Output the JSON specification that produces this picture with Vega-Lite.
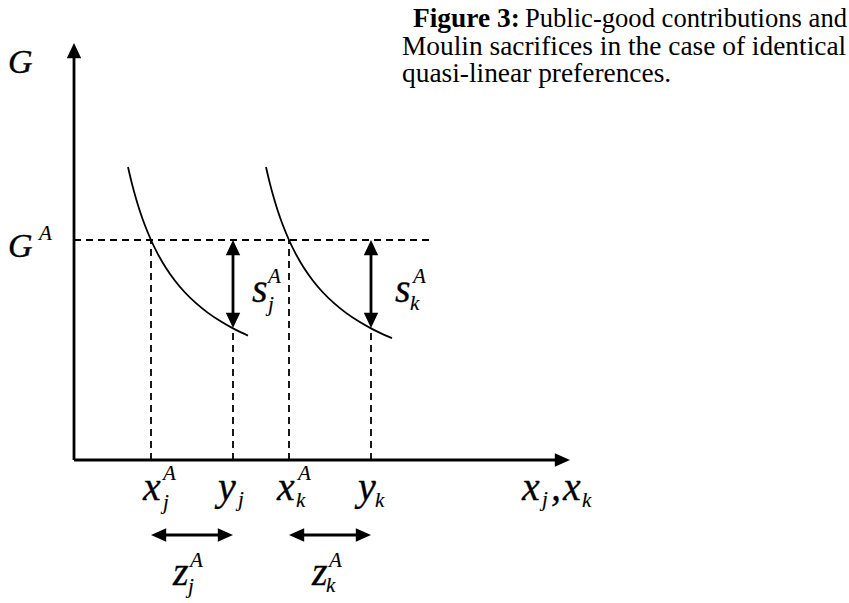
{
  "$schema": "https://vega.github.io/schema/vega-lite/v6.json",
  "width": 849,
  "height": 603,
  "padding": 0,
  "autosize": "none",
  "background": "white",
  "config": {"view": {"stroke": null}},
  "datasets": {
    "axes": [
      {"x": 0, "y": 0, "x2": 0, "y2": 408},
      {"x": 0, "y": 0, "x2": 486, "y2": 0}
    ],
    "guides": [
      {"x": 0, "y": 220, "x2": 356, "y2": 220},
      {"x": 77, "y": 0, "x2": 77, "y2": 220},
      {"x": 159, "y": 0, "x2": 159, "y2": 132},
      {"x": 215, "y": 0, "x2": 215, "y2": 220},
      {"x": 297, "y": 0, "x2": 297, "y2": 132}
    ],
    "shafts": [
      {"x": 159, "y": 140, "x2": 159, "y2": 212},
      {"x": 297, "y": 140, "x2": 297, "y2": 212},
      {"x": 85, "y": -75, "x2": 151, "y2": -75},
      {"x": 223, "y": -75, "x2": 289, "y2": -75}
    ],
    "heads": [
      {"x": 0, "y": 417, "dir": "up"},
      {"x": 496, "y": 0, "dir": "right"},
      {"x": 159, "y": 220, "dir": "up"},
      {"x": 159, "y": 132, "dir": "down"},
      {"x": 297, "y": 220, "dir": "up"},
      {"x": 297, "y": 132, "dir": "down"},
      {"x": 77, "y": -75, "dir": "left"},
      {"x": 159, "y": -75, "dir": "right"},
      {"x": 215, "y": -75, "dir": "left"},
      {"x": 297, "y": -75, "dir": "right"}
    ],
    "curves": [
      {"c": "j", "x": 54, "y": 293.0},
      {"c": "j", "x": 58, "y": 276.1},
      {"c": "j", "x": 62, "y": 261.4},
      {"c": "j", "x": 66, "y": 248.5},
      {"c": "j", "x": 71, "y": 234.5},
      {"c": "j", "x": 77, "y": 220.0},
      {"c": "j", "x": 84, "y": 205.7},
      {"c": "j", "x": 92, "y": 192.0},
      {"c": "j", "x": 101, "y": 179.3},
      {"c": "j", "x": 111, "y": 167.5},
      {"c": "j", "x": 122, "y": 156.8},
      {"c": "j", "x": 134, "y": 147.1},
      {"c": "j", "x": 147, "y": 138.4},
      {"c": "j", "x": 159, "y": 131.6},
      {"c": "j", "x": 167, "y": 127.6},
      {"c": "j", "x": 174, "y": 124.4},
      {"c": "k", "x": 192, "y": 293.0},
      {"c": "k", "x": 196, "y": 276.1},
      {"c": "k", "x": 200, "y": 261.4},
      {"c": "k", "x": 204, "y": 248.5},
      {"c": "k", "x": 209, "y": 234.5},
      {"c": "k", "x": 215, "y": 220.0},
      {"c": "k", "x": 222, "y": 205.7},
      {"c": "k", "x": 230, "y": 192.0},
      {"c": "k", "x": 239, "y": 179.3},
      {"c": "k", "x": 249, "y": 167.5},
      {"c": "k", "x": 260, "y": 156.8},
      {"c": "k", "x": 272, "y": 147.1},
      {"c": "k", "x": 285, "y": 138.4},
      {"c": "k", "x": 297, "y": 131.6},
      {"c": "k", "x": 305, "y": 127.6},
      {"c": "k", "x": 312, "y": 124.4},
      {"c": "k", "x": 318, "y": 121.9}
    ],
    "mainLabels": [
      {"x": 178, "y": 158, "t": "s"},
      {"x": 321, "y": 158, "t": "s"},
      {"x": 69, "y": -40, "t": "x"},
      {"x": 144, "y": -40, "t": "y"},
      {"x": 203, "y": -40, "t": "x"},
      {"x": 284, "y": -40, "t": "y"},
      {"x": 448, "y": -40, "t": "x"},
      {"x": 477, "y": -40, "t": ","},
      {"x": 489, "y": -40, "t": "x"},
      {"x": 99, "y": -125, "t": "z"},
      {"x": 238, "y": -125, "t": "z"}
    ],
    "gLabels": [
      {"x": -66, "y": 387, "t": "G"},
      {"x": -66, "y": 203, "t": "G"}
    ],
    "smallLabels": [
      {"x": -35, "y": 220, "t": "A"},
      {"x": 194, "y": 177, "t": "A"},
      {"x": 194, "y": 149, "t": "j"},
      {"x": 339, "y": 177, "t": "A"},
      {"x": 336, "y": 150, "t": "k"},
      {"x": 89, "y": -20, "t": "A"},
      {"x": 89, "y": -49, "t": "j"},
      {"x": 164, "y": -46, "t": "j"},
      {"x": 224, "y": -20, "t": "A"},
      {"x": 222, "y": -47, "t": "k"},
      {"x": 301, "y": -47, "t": "k"},
      {"x": 468, "y": -46, "t": "j"},
      {"x": 508, "y": -47, "t": "k"},
      {"x": 116, "y": -107, "t": "A"},
      {"x": 114, "y": -133, "t": "j"},
      {"x": 255, "y": -107, "t": "A"},
      {"x": 252, "y": -132, "t": "k"}
    ],
    "captionBold": [
      {"x": 339, "y": 432.7, "t": "Figure 3:"}
    ],
    "captionRight": [
      {"x": 773, "y": 432.7, "t": "Public-good contributions and"}
    ],
    "captionLeft": [
      {"x": 328, "y": 405.5, "t": "Moulin sacrifices in the case of identical"},
      {"x": 328, "y": 378.3, "t": "quasi-linear preferences."}
    ]
  },
  "layer": [
    {
      "data": {"name": "guides"},
      "mark": {"type": "rule", "color": "black", "strokeWidth": 1.8, "strokeDash": [7, 5]},
      "encoding": {
        "x": {"field": "x", "type": "quantitative", "axis": null, "scale": {"domain": [-74, 775], "nice": false, "zero": false}},
        "y": {"field": "y", "type": "quantitative", "axis": null, "scale": {"domain": [-143, 460], "nice": false, "zero": false}},
        "x2": {"field": "x2"},
        "y2": {"field": "y2"}
      }
    },
    {
      "data": {"name": "curves"},
      "mark": {"type": "line", "color": "black", "strokeWidth": 1.8, "interpolate": "monotone"},
      "encoding": {
        "x": {"field": "x", "type": "quantitative", "axis": null, "scale": {"domain": [-74, 775], "nice": false, "zero": false}},
        "y": {"field": "y", "type": "quantitative", "axis": null, "scale": {"domain": [-143, 460], "nice": false, "zero": false}},
        "detail": {"field": "c"}
      }
    },
    {
      "data": {"name": "axes"},
      "mark": {"type": "rule", "color": "black", "strokeWidth": 2.8},
      "encoding": {
        "x": {"field": "x", "type": "quantitative", "axis": null, "scale": {"domain": [-74, 775], "nice": false, "zero": false}},
        "y": {"field": "y", "type": "quantitative", "axis": null, "scale": {"domain": [-143, 460], "nice": false, "zero": false}},
        "x2": {"field": "x2"},
        "y2": {"field": "y2"}
      }
    },
    {
      "data": {"name": "shafts"},
      "mark": {"type": "rule", "color": "black", "strokeWidth": 2.8},
      "encoding": {
        "x": {"field": "x", "type": "quantitative", "axis": null, "scale": {"domain": [-74, 775], "nice": false, "zero": false}},
        "y": {"field": "y", "type": "quantitative", "axis": null, "scale": {"domain": [-143, 460], "nice": false, "zero": false}},
        "x2": {"field": "x2"},
        "y2": {"field": "y2"}
      }
    },
    {
      "data": {"name": "heads"},
      "mark": {"type": "point", "filled": true, "color": "black", "opacity": 1, "size": 64, "strokeWidth": 0},
      "encoding": {
        "x": {"field": "x", "type": "quantitative", "axis": null, "scale": {"domain": [-74, 775], "nice": false, "zero": false}},
        "y": {"field": "y", "type": "quantitative", "axis": null, "scale": {"domain": [-143, 460], "nice": false, "zero": false}},
        "shape": {
          "field": "dir",
          "type": "nominal",
          "legend": null,
          "scale": {
            "domain": ["up", "down", "left", "right"],
            "range": [
              "M0,0L1.8,3.8L-1.8,3.8Z",
              "M0,0L1.8,-3.8L-1.8,-3.8Z",
              "M0,0L3.8,1.7L3.8,-1.7Z",
              "M0,0L-3.8,1.7L-3.8,-1.7Z"
            ]
          }
        }
      }
    },
    {
      "data": {"name": "mainLabels"},
      "mark": {"type": "text", "font": "Liberation Serif, Times New Roman, serif", "fontStyle": "italic", "fontSize": 40, "align": "left", "baseline": "alphabetic", "color": "black", "stroke": "black", "strokeWidth": 0.3},
      "encoding": {
        "x": {"field": "x", "type": "quantitative", "axis": null, "scale": {"domain": [-74, 775], "nice": false, "zero": false}},
        "y": {"field": "y", "type": "quantitative", "axis": null, "scale": {"domain": [-143, 460], "nice": false, "zero": false}},
        "text": {"field": "t"}
      }
    },
    {
      "data": {"name": "gLabels"},
      "mark": {"type": "text", "font": "Liberation Serif, Times New Roman, serif", "fontStyle": "italic", "fontSize": 34, "align": "left", "baseline": "alphabetic", "color": "black", "stroke": "black", "strokeWidth": 0.4},
      "encoding": {
        "x": {"field": "x", "type": "quantitative", "axis": null, "scale": {"domain": [-74, 775], "nice": false, "zero": false}},
        "y": {"field": "y", "type": "quantitative", "axis": null, "scale": {"domain": [-143, 460], "nice": false, "zero": false}},
        "text": {"field": "t"}
      }
    },
    {
      "data": {"name": "smallLabels"},
      "mark": {"type": "text", "font": "Liberation Serif, Times New Roman, serif", "fontStyle": "italic", "fontSize": 21, "align": "left", "baseline": "alphabetic", "color": "black", "stroke": "black", "strokeWidth": 0.15},
      "encoding": {
        "x": {"field": "x", "type": "quantitative", "axis": null, "scale": {"domain": [-74, 775], "nice": false, "zero": false}},
        "y": {"field": "y", "type": "quantitative", "axis": null, "scale": {"domain": [-143, 460], "nice": false, "zero": false}},
        "text": {"field": "t"}
      }
    },
    {
      "data": {"name": "captionBold"},
      "mark": {"type": "text", "font": "Liberation Serif, Times New Roman, serif", "fontWeight": "bold", "fontSize": 27.4, "align": "left", "baseline": "alphabetic", "color": "black"},
      "encoding": {
        "x": {"field": "x", "type": "quantitative", "axis": null, "scale": {"domain": [-74, 775], "nice": false, "zero": false}},
        "y": {"field": "y", "type": "quantitative", "axis": null, "scale": {"domain": [-143, 460], "nice": false, "zero": false}},
        "text": {"field": "t"}
      }
    },
    {
      "data": {"name": "captionRight"},
      "mark": {"type": "text", "font": "Liberation Serif, Times New Roman, serif", "fontSize": 26.6, "align": "right", "baseline": "alphabetic", "color": "black"},
      "encoding": {
        "x": {"field": "x", "type": "quantitative", "axis": null, "scale": {"domain": [-74, 775], "nice": false, "zero": false}},
        "y": {"field": "y", "type": "quantitative", "axis": null, "scale": {"domain": [-143, 460], "nice": false, "zero": false}},
        "text": {"field": "t"}
      }
    },
    {
      "data": {"name": "captionLeft"},
      "mark": {"type": "text", "font": "Liberation Serif, Times New Roman, serif", "fontSize": 27.4, "align": "left", "baseline": "alphabetic", "color": "black"},
      "encoding": {
        "x": {"field": "x", "type": "quantitative", "axis": null, "scale": {"domain": [-74, 775], "nice": false, "zero": false}},
        "y": {"field": "y", "type": "quantitative", "axis": null, "scale": {"domain": [-143, 460], "nice": false, "zero": false}},
        "text": {"field": "t"}
      }
    }
  ]
}
